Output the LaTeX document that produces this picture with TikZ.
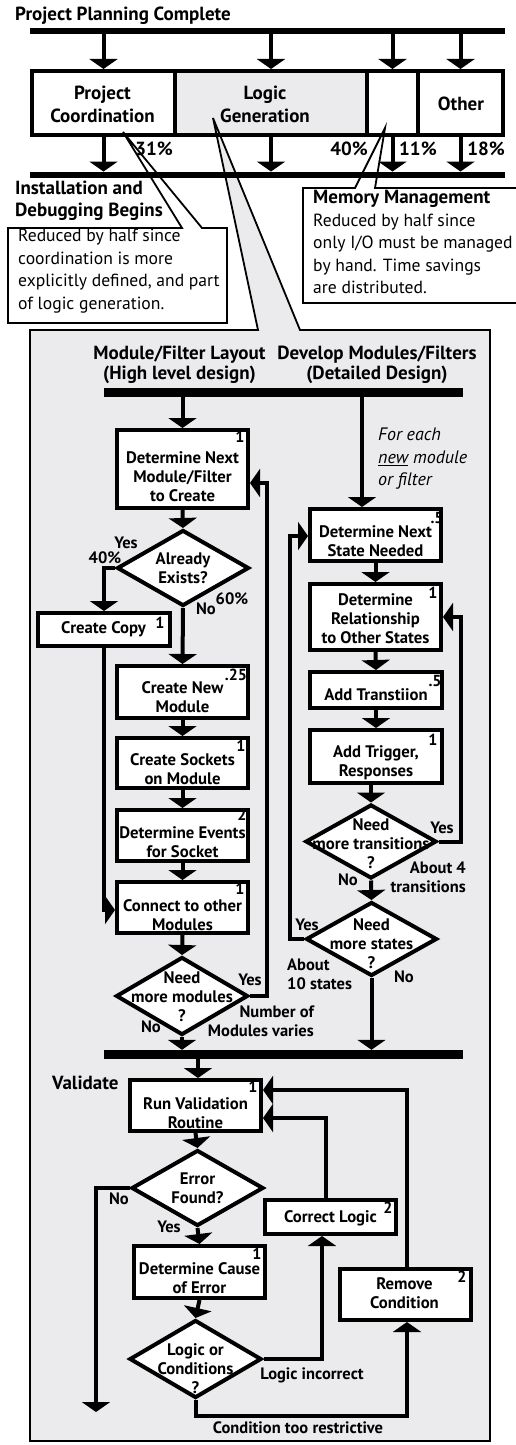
\documentclass[tikz,border=0pt]{standalone}
\usepackage{fontspec}
\setmainfont{PT Sans}
\usetikzlibrary{arrows.meta,shapes.geometric}
\definecolor{panelgray}{HTML}{EBEBED}
\begin{document}
\begin{tikzpicture}[x=1pt,y=-1pt,
  lw/.style={line width=4pt},
  box/.style={draw, lw, fill=white, minimum width=131pt, inner sep=0pt},
  dia/.style={diamond, draw, lw, fill=white, inner sep=0pt, minimum width=132pt, minimum height=76pt},
  topbox/.style={draw, lw, inner sep=0pt, minimum height=64pt},
  lbl/.style={font=\bfseries\fontsize{16.7}{19}\selectfont, align=center, inner sep=0pt},
  head/.style={font=\bfseries\fontsize{19}{23}\selectfont, align=center, inner sep=0pt},
  note/.style={font=\fontsize{17.6}{22.5}\selectfont, align=left, inner sep=0pt},
  tag/.style={font=\bfseries\fontsize{16.5}{19}\selectfont, inner sep=0pt},
  num/.style={font=\bfseries\fontsize{16}{16}\selectfont, inner sep=0pt},
  arr/.style={lw, -{Triangle[width=28pt,length=10pt]}},
  bar/.style={fill=black, inner sep=0pt},
  outl/.style={line width=1.8pt, line join=miter},
]
\useasboundingbox (0,0) rectangle (516,1445);
\fill[white] (0,0) rectangle (516,1445);

% ---------- phase row: shading of the logic segment ----------
\fill[panelgray] (175,71) rectangle (367,135);

% ---------- detail panel with its pointer into "Logic Generation" ----------
\draw[outl, fill=panelgray] (30,330) -- (258,330) -- (213,118) -- (300,330)
  -- (490,330) -- (490,1441) -- (30,1441) -- cycle;

% ---------- callouts ----------
\draw[outl, fill=white] (8,228) -- (182,228) -- (123,132) -- (202,228)
  -- (227,228) -- (227,323) -- (8,323) -- cycle;
\draw[outl, fill=white] (303,188) -- (355,188) -- (385,128) -- (375,188)
  -- (530,188) -- (530,303) -- (303,303) -- cycle;

\node[note, anchor=north west] (pcnote) at (18,229)
  {Reduced by half since\\coordination is more\\explicitly defined, and part\\of logic generation.};
\node[note, anchor=north west] (mmnote) at (313,190)
  {{\bfseries\fontsize{19}{22.5}\selectfont Memory Management}\\Reduced by half since\\only I/O must be managed\\by hand. Time savings\\are distributed.};

% ---------- phase row ----------
\node[topbox, minimum width=143pt] (pc) at (103.5,103) {};
\node[topbox, minimum width=192pt] (lg) at (271,103) {};
\node[topbox, minimum width=51pt] (mm) at (392.5,103) {};
\node[topbox, minimum width=85pt] (ot) at (460.5,103) {};
\node[head] (pcT) at (102.5,104) {Project\\Coordination};
\node[head] (lgT) at (265,104) {Logic\\Generation};
\node[head] (otT) at (461,104) {Other};

\node[head, anchor=west] (start) at (15,16) {Project Planning Complete};
\node[bar, minimum width=475pt, minimum height=6pt] (bar1) at (267.5,31) {};
\node[bar, minimum width=475pt, minimum height=6.5pt] (bar2) at (267.5,175) {};
\node[head, anchor=west, align=left, font=\bfseries\fontsize{19}{22}\selectfont] (finish) at (15,201) {Installation and\\Debugging Begins};

\foreach \b in {pc,lg,mm,ot}{
  \draw[arr] (bar1.south -| \b.north) -- (\b.north);
  \draw[arr] (\b.south) -- (\b.south |- bar2.north);
}
\node[head, anchor=east] (p31) at (173,149) {31\%};
\node[head, anchor=east] (p40) at (368,149) {40\%};
\node[head, anchor=west] (p11) at (399,149) {11\%};
\node[head, anchor=east] (p18) at (505,149) {18\%};

% ---------- panel headings ----------
\node[head, font=\bfseries\fontsize{19}{20.5}\selectfont] (hl) at (179.5,365) {Module/Filter Layout\\(High level design)};
\node[head, font=\bfseries\fontsize{19}{20.5}\selectfont] (hr) at (377,365) {Develop Modules/Filters\\(Detailed Design)};
\node[bar, minimum width=359pt, minimum height=9pt] (bar3) at (283.5,392.5) {};
\node[bar, minimum width=359pt, minimum height=9pt] (bar4) at (283.5,1054.5) {};

% ---------- high level design column ----------
\node[box, minimum height=78pt] (detmod) at (182.5,469) {};
\node[dia] (exists) at (183,568) {};
\node[box, minimum width=132pt, minimum height=33pt] (copy) at (104,629.5) {};
\node[box, minimum height=52pt] (newmod) at (182.5,692) {};
\node[box, minimum height=50pt] (sockets) at (182.5,763) {};
\node[box, minimum height=51pt] (events) at (182.5,835.5) {};
\node[box, minimum height=51pt] (connect) at (182.5,907.5) {};
\node[dia, minimum height=78pt] (moremod) at (182,996) {};

\node[lbl] (detmodT) at (182.5,477) {Determine Next\\Module/Filter\\to Create};
\node[lbl] (existsT) at (183,568.5) {Already\\Exists?};
\node[lbl] (copyT) at (103.5,629.5) {Create Copy};
\node[lbl] (newmodT) at (182.5,697) {Create New\\Module};
\node[lbl] (socketsT) at (182.5,769) {Create Sockets\\on Module};
\node[lbl] (eventsT) at (182.5,842) {Determine Events\\for Socket};
\node[lbl] (connectT) at (182.5,915.5) {Connect to other\\Modules};
\node[lbl] (moremodT) at (182,996.5) {Need\\more modules\\?};

\node[num] (detmodN) at (240,437) {1};
\node[num] (copyN) at (160,623) {1};
\node[num] (newmodN) at (236,675) {.25};
\node[num] (socketsN) at (241,746) {1};
\node[num] (eventsN) at (242,815) {2};
\node[num] (connectN) at (240,888.5) {1};

\draw[arr] (bar3.south -| detmod.north) -- (detmod.north);
\draw[arr] (detmod.south) -- (exists.north);
\draw[arr] (exists.west) -| (copy.north);
\draw[arr] (exists.south) -- (newmod.north);
\draw[arr] (newmod.south) -- (sockets.north);
\draw[arr] (sockets.south) -- (events.north);
\draw[arr] (events.south) -- (connect.north);
\draw[arr] (copy.south) |- ([yshift=-2.5pt]connect.west);
\draw[arr] (connect.south) -- (moremod.north);
\draw[arr] (moremod.east) -- ++(17,0) |- ([yshift=-14pt]detmod.east);
\draw[arr] (moremod.south) -- (moremod.south |- bar4.north);

\node[tag] (yes1) at (126,543) {Yes};
\node[tag] (pct40) at (105,558) {40\%};
\node[tag] (no1) at (206,609) {No};
\node[tag] (pct60) at (232,599) {60\%};
\node[tag] (yes2) at (250,980) {Yes};
\node[tag] (no2) at (151,1027) {No};
\node[tag, align=right, anchor=east] (nmod) at (314,1021.5) {Number of\\Modules varies};

% ---------- detailed design column ----------
\node[box, minimum height=52pt] (nextstate) at (375.5,535) {};
\node[box, minimum height=66pt] (relation) at (375.5,617) {};
\node[box, minimum width=132pt, minimum height=36pt] (addtrans) at (376,690) {};
\node[box, minimum width=132pt, minimum height=53pt] (trigger) at (376,756.5) {};
\node[dia, minimum width=131pt, minimum height=74pt] (moretrans) at (371,841.5) {};
\node[dia, minimum width=131pt, minimum height=74pt] (morestates) at (371.5,939) {};

\node[lbl] (nextstateT) at (375.5,541.5) {Determine Next\\State Needed};
\node[lbl] (relationT) at (375.5,619) {Determine\\Relationship\\to Other States};
\node[lbl] (addtransT) at (376,695) {Add Transtiion};
\node[lbl] (triggerT) at (376,762.5) {Add Trigger,\\Responses};
\node[lbl] (moretransT) at (371,844) {Need\\more transitions\\?};
\node[lbl] (morestatesT) at (371.5,944) {Need\\more states\\?};

\node[num] (nextstateN) at (437,518) {.5};
\node[num] (relationN) at (433,593) {1};
\node[num] (addtransN) at (435,681) {.5};
\node[num] (triggerN) at (433,740) {1};

\node[font=\itshape\fontsize{18}{22.5}\selectfont, align=left, inner sep=0pt, anchor=west]
  (foreach) at (378,459) {For each\\\underline{new} module\\or filter};

\draw[arr] ([xshift=-13.5pt]nextstate.north |- bar3.south) -- ([xshift=-13.5pt]nextstate.north);
\draw[arr] (nextstate.south) -- (relation.north);
\draw[arr] (relation.south) -- (addtrans.north);
\draw[arr] (addtrans.south) -- (trigger.north);
\draw[arr] ([xshift=-5pt]trigger.south) -- (moretrans.north);
\draw[arr] (moretrans.south) -- (morestates.north);
\draw[arr] (moretrans.east) -- ++(22,0) |- (relation.east);
\draw[arr] (morestates.west) -- ++(-14,0) |- ([yshift=-1pt]nextstate.west);
\draw[arr] (morestates.south) -- (morestates.south |- bar4.north);

\node[tag] (yes3) at (442,828) {Yes};
\node[tag] (no3) at (348,880) {No};
\node[tag, align=right, anchor=east] (about4) at (466,877.5) {About 4\\transitions};
\node[tag] (yes4) at (307,925) {Yes};
\node[tag, align=left, anchor=west] (about10) at (287,974.5) {About\\10 states};
\node[tag] (no4) at (404,977) {No};

% ---------- validation ----------
\node[head, anchor=west] (validate) at (52,1083) {Validate};
\node[box, minimum height=51pt] (runval) at (195.5,1105.5) {};
\node[dia, minimum height=76pt] (errfound) at (197.5,1188) {};
\node[box, minimum height=52pt] (cause) at (199.5,1272) {};
\node[dia, minimum height=78pt] (logicor) at (195.5,1359) {};
\node[box, minimum height=34pt] (correct) at (330.5,1217) {};
\node[box, minimum height=51pt] (remove) at (405.5,1294.5) {};

\node[lbl] (runvalT) at (195.5,1113) {Run Validation\\Routine};
\node[lbl] (errfoundT) at (197.5,1188.5) {Error\\Found?};
\node[lbl] (causeT) at (199.5,1278.5) {Determine Cause\\of Error};
\node[lbl] (logicorT) at (195.5,1368.5) {Logic or\\Conditions\\?};
\node[lbl] (correctT) at (330.5,1218) {Correct Logic};
\node[lbl] (removeT) at (404.5,1293.5) {Remove\\Condition};

\node[num] (runvalN) at (253,1087) {1};
\node[num] (causeN) at (257,1254) {1};
\node[num] (correctN) at (388,1208) {2};
\node[num] (removeN) at (462,1277) {2};

\coordinate (done) at (96,1412);
\draw[arr] ([xshift=-85.5pt]bar4.south) -- ([xshift=2.5pt]runval.north);
\draw[arr] (runval.south) -- (errfound.north);
\draw[arr] (errfound.south) -- (cause.north);
\draw[arr] (cause.south) -- (logicor.north);
\draw[arr] (errfound.west) -| (done);
\draw[arr] (logicor.east) -| ([xshift=-8.5pt]correct.south);
\draw[arr] (logicor.south) -- ++(0,16) -| ([xshift=1.5pt]remove.south);
\draw[arr] ([xshift=-4.5pt]correct.north) |- ([yshift=-12.5pt]runval.east);
\draw[arr] ([xshift=1.5pt]remove.north) |- ([yshift=15.5pt]runval.east);

\node[tag] (no5) at (119,1199) {No};
\node[tag] (yes5) at (169,1227) {Yes};
\node[tag] (logicbad) at (312,1375) {Logic incorrect};
\node[tag] (condbad) at (298,1428) {Condition too restrictive};
\end{tikzpicture}
\end{document}
